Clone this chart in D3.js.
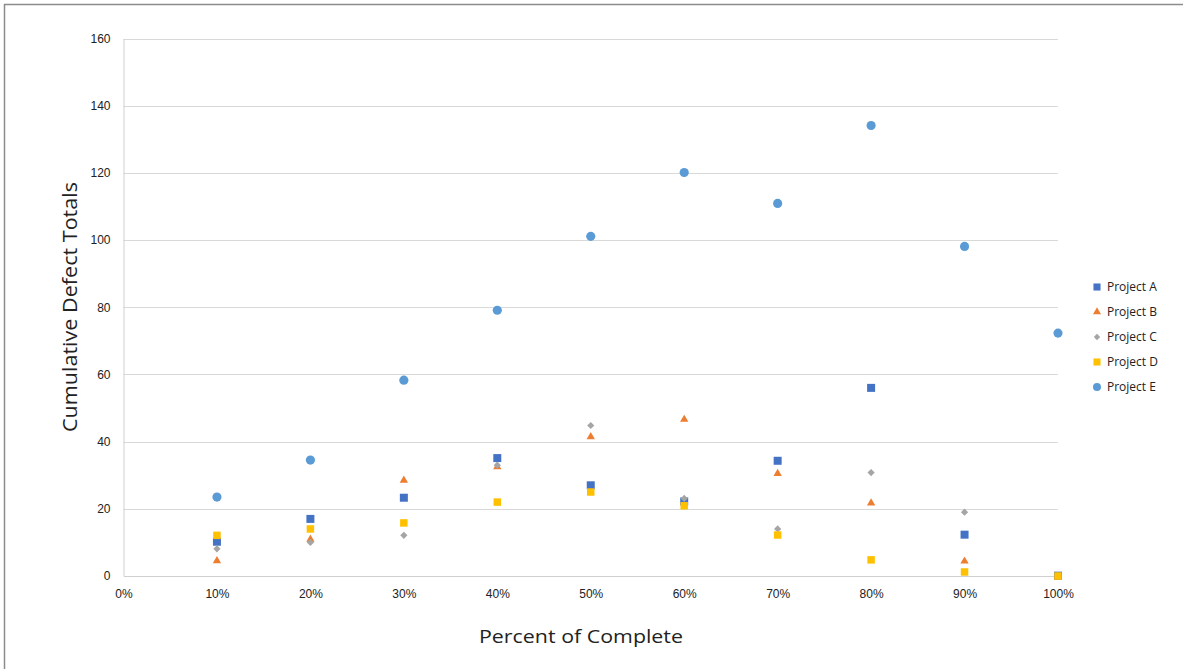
<!DOCTYPE html>
<html>
<head>
<meta charset="utf-8">
<script src="https://cdn.jsdelivr.net/npm/d3@7"></script>
<style>
  html, body { margin: 0; padding: 0; background: #fff; }
  svg { display: block; font-family: "Open Sans", "Noto Sans", sans-serif; }
</style>
</head>
<body>
<svg id="chart" width="1183" height="669"></svg>
<script>
const percents = [0.1, 0.2, 0.3, 0.4, 0.5, 0.6, 0.7, 0.8, 0.9, 1.0];
const projectA = [10.2, 17.0, 23.3, 35.1, 27.0, 22.2, 34.3, 56.0, 12.3, 0.1];
const projectB = [4.8, 11.2, 28.8, 32.8, 41.7, 46.9, 30.8, 22.0, 4.7, 0];
const projectC = [8.1, 10.0, 12.1, 33.0, 44.8, 23.1, 14.0, 30.8, 19.0, 0];
const projectD = [12.1, 14.0, 15.8, 22.0, 25.0, 20.9, 12.2, 4.8, 1.2, 0];
const projectE = [23.5, 34.5, 58.3, 79.1, 101.1, 120.1, 110.9, 134.1, 98.1, 72.3];
const seriesNames = ["Project A", "Project B", "Project C", "Project D", "Project E"];
const xTicks = [0, 0.1, 0.2, 0.3, 0.4, 0.5, 0.6, 0.7, 0.8, 0.9, 1.0];
const yTicks = [0, 20, 40, 60, 80, 100, 120, 140, 160];

(function () {
const series = [
  { name: seriesNames[0], values: projectA, color: "#4472C4", symbol: d3.symbolSquare, size: 64, rot: 0, lsize: 50 },
  { name: seriesNames[1], values: projectB, color: "#ED7D31", symbol: d3.symbolTriangle, size: 30, rot: 0, lsize: 28 },
  { name: seriesNames[2], values: projectC, color: "#A5A5A5", symbol: d3.symbolSquare, size: 26, rot: 45, lsize: 20 },
  { name: seriesNames[3], values: projectD, color: "#FFC000", symbol: d3.symbolSquare, size: 56, rot: 0, lsize: 50 },
  { name: seriesNames[4], values: projectE, color: "#5B9BD5", symbol: d3.symbolCircle, size: 66, rot: 0, lsize: 50 }
];

const svg = d3.select("#chart");
const W = 1183, H = 669;
const mLeft = 123.5, mRight = 1058, mTop = 38.5, mBottom = 576;

svg.append("line").attr("x1", 4).attr("x2", W).attr("y1", 4.5).attr("y2", 4.5)
  .attr("stroke", "#8c8c8c").attr("stroke-width", 1.5);
svg.append("line").attr("x1", 4.5).attr("x2", 4.5).attr("y1", 4).attr("y2", H)
  .attr("stroke", "#8c8c8c").attr("stroke-width", 1.5);

const x = d3.scaleLinear().domain([0, 1]).range([mLeft, mRight]);
const y = d3.scaleLinear().domain([0, 160]).range([mBottom, mTop]);

svg.append("g").selectAll("line").data(yTicks.filter(d => d > 0)).join("line")
  .attr("x1", mLeft).attr("x2", mRight)
  .attr("y1", d => Math.round(y(d)) + 0.5).attr("y2", d => Math.round(y(d)) + 0.5)
  .attr("stroke", "#d9d9d9").attr("stroke-width", 1);

const yAxis = d3.axisLeft(y).tickValues(yTicks).tickSize(0).tickPadding(13).tickFormat(d3.format("d"));
const gy = svg.append("g").attr("transform", `translate(${mLeft},0)`).call(yAxis);
gy.select(".domain").attr("stroke", "#d0d0d0");
gy.selectAll("text").attr("font-size", 12).attr("fill", "#222");

const xAxis = d3.axisBottom(x).tickValues(xTicks).tickSize(0).tickPadding(13).tickFormat(d3.format(".0%"));
const gx = svg.append("g").attr("transform", `translate(0,${mBottom})`).call(xAxis);
gx.select(".domain").attr("stroke", "#d0d0d0");
gx.selectAll("text").attr("font-size", 12).attr("fill", "#222");

series.forEach(s => {
  const sym = d3.symbol().type(s.symbol).size(s.size);
  svg.append("g").selectAll("path").data(s.values.map((v, i) => [percents[i], v])).join("path")
    .attr("d", sym)
    .attr("transform", d => {
      const dy = s.symbol === d3.symbolTriangle ? 1 : 0;
      return `translate(${x(d[0])},${y(d[1]) + dy}) rotate(${s.rot})`;
    })
    .attr("fill", s.color);
});

svg.append("text").attr("x", 581).attr("y", 643).attr("text-anchor", "middle")
  .attr("font-size", 19).attr("fill", "#222").attr("textLength", 204).attr("lengthAdjust", "spacingAndGlyphs")
  .text("Percent of Complete");
svg.append("text").attr("transform", "translate(77,307) rotate(-90)").attr("text-anchor", "middle")
  .attr("font-size", 19.5).attr("fill", "#222").attr("textLength", 250).attr("lengthAdjust", "spacingAndGlyphs")
  .text("Cumulative Defect Totals");

const legend = svg.append("g");
const legendY = [287, 312, 337, 362, 387];
series.forEach((s, i) => {
  legend.append("path").attr("d", d3.symbol().type(s.symbol).size(s.lsize)())
    .attr("transform", `translate(1097,${legendY[i]}) rotate(${s.rot})`).attr("fill", s.color);
  legend.append("text").attr("x", 1107).attr("y", legendY[i]).attr("dy", "0.35em")
    .attr("font-size", 12).attr("fill", "#222").text(s.name);
});
})();
</script>
</body>
</html>
